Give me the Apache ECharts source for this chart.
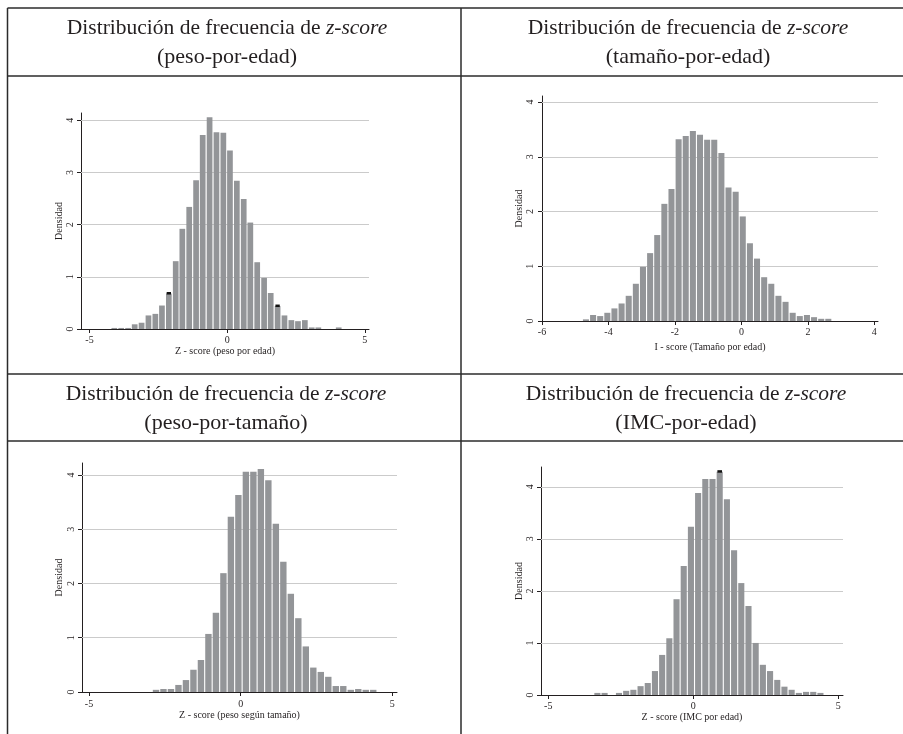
<!DOCTYPE html>
<html><head><meta charset="utf-8">
<script src="https://cdn.jsdelivr.net/npm/echarts@6/dist/echarts.min.js"></script>
<style>html,body{margin:0;padding:0;background:#fff}#c{width:903px;height:734px}</style>
</head><body><div id="c"></div><script>
// ---- data ----
const titleMain = 'Distribución de frecuencia de ';
const titleItalic = 'z-score';
const subTitles = ['(peso-por-edad)', '(tamaño-por-edad)', '(peso-por-tamaño)', '(IMC-por-edad)'];
const xNames = ['Z - score (peso por edad)', 'I - score (Tamaño por edad)', 'Z - score (peso según tamaño)', 'Z - score (IMC por edad)'];
const yName = 'Densidad';
const yTicks = [0, 1, 2, 3, 4];
const yGridVals = [1, 2, 3, 4];
const xTicks1 = [-5, 0, 5];
const xTicks2 = [-6, -4, -2, 0, 2, 4];
const xTicks3 = [-5, 0, 5];
const xTicks4 = [-5, 0, 5];

const centers1 = [-4.10,-3.85,-3.60,-3.36,-3.11,-2.86,-2.61,-2.37,-2.12,-1.87,-1.63,-1.38,-1.13,-0.89,-0.64,-0.39,-0.14,0.10,0.35,0.60,0.84,1.09,1.34,1.58,1.83,2.08,2.33,2.57,2.82,3.07,3.31,3.56,3.81,4.05];
const values1 = [0.02,0.02,0.02,0.09,0.12,0.26,0.29,0.45,0.68,1.30,1.92,2.34,2.85,3.72,4.06,3.77,3.76,3.42,2.84,2.49,2.04,1.28,0.98,0.69,0.44,0.26,0.17,0.15,0.17,0.03,0.03,0,0,0.03];
const marks1 = [[-2.12, 0.68], [1.83, 0.44]];

const centers2 = [-4.678,-4.463,-4.249,-4.034,-3.820,-3.605,-3.391,-3.176,-2.962,-2.747,-2.533,-2.318,-2.104,-1.889,-1.675,-1.460,-1.246,-1.031,-0.817,-0.602,-0.388,-0.173,0.041,0.256,0.470,0.685,0.899,1.114,1.328,1.543,1.757,1.972,2.186,2.401,2.615];
const values2 = [0.03,0.11,0.09,0.15,0.23,0.32,0.46,0.68,0.99,1.24,1.57,2.14,2.41,3.32,3.38,3.47,3.40,3.31,3.31,3.07,2.44,2.36,1.91,1.42,1.14,0.80,0.68,0.46,0.35,0.15,0.09,0.11,0.07,0.04,0.04];
const marks2 = [];

const centers3 = [-2.790,-2.544,-2.297,-2.050,-1.803,-1.556,-1.309,-1.062,-0.815,-0.568,-0.321,-0.074,0.173,0.420,0.667,0.914,1.161,1.408,1.655,1.902,2.149,2.396,2.643,2.890,3.137,3.384,3.631,3.878,4.125,4.372];
const values3 = [0.04,0.055,0.055,0.13,0.22,0.41,0.59,1.07,1.46,2.19,3.23,3.63,4.06,4.06,4.11,3.90,3.10,2.40,1.81,1.36,0.84,0.45,0.37,0.28,0.11,0.11,0.04,0.055,0.04,0.04];
const marks3 = [];

const centers4 = [-3.306,-3.058,-2.810,-2.562,-2.314,-2.066,-1.818,-1.570,-1.322,-1.074,-0.826,-0.578,-0.330,-0.082,0.166,0.414,0.662,0.910,1.158,1.406,1.654,1.902,2.150,2.398,2.646,2.894,3.142,3.390,3.638,3.886,4.134,4.382];
const values4 = [0.04,0.04,0,0.04,0.08,0.10,0.17,0.23,0.46,0.77,1.09,1.84,2.48,3.23,3.88,4.15,4.15,4.29,3.76,2.78,2.15,1.71,1.00,0.58,0.46,0.29,0.16,0.10,0.04,0.06,0.06,0.04];
const marks4 = [[0.910, 4.29]];

// ---- layout / style ----
const SERIF = '"Liberation Serif", "DejaVu Serif", serif';
const INK = '#231f20';
const BAR = '#939598';
const panels = [
  {centers: centers1, values: values1, marks: marks1, xTicks: xTicks1, bw: 0.247,
   grid: {left: 81, top: 113, width: 288, height: 216}, xMin: -5.31, xMax: 5.15, yMax: 4.14,
   xLabelGap: 6, xNameGap: 15, yLabelGap: 6, yNameGap: 17},
  {centers: centers2, values: values2, marks: marks2, xTicks: xTicks2, bw: 0.2145,
   grid: {left: 542, top: 96, width: 336, height: 225}, xMin: -6, xMax: 4.11, yMax: 4.11,
   xLabelGap: 6, xNameGap: 21, yLabelGap: 7, yNameGap: 18},
  {centers: centers3, values: values3, marks: marks3, xTicks: xTicks3, bw: 0.247,
   grid: {left: 82, top: 463, width: 315, height: 229}, xMin: -5.23, xMax: 5.155, yMax: 4.22,
   xLabelGap: 7, xNameGap: 18, yLabelGap: 6, yNameGap: 18},
  {centers: centers4, values: values4, marks: marks4, xTicks: xTicks4, bw: 0.248,
   grid: {left: 541, top: 467, width: 302, height: 228}, xMin: -5.25, xMax: 5.16, yMax: 4.38,
   xLabelGap: 6, xNameGap: 17, yLabelGap: 6, yNameGap: 16}
];

const grids = [], xAxes = [], yAxes = [], series = [];
panels.forEach((p, i) => {
  grids.push(Object.assign({containLabel: false}, p.grid));
  xAxes.push({
    type: 'value', gridIndex: i, min: p.xMin, max: p.xMax,
    axisLine: {show: true, onZero: false, lineStyle: {color: INK, width: 1}},
    axisTick: {show: true, length: 4, customValues: p.xTicks, lineStyle: {color: INK, width: 1}},
    axisLabel: {customValues: p.xTicks, margin: p.xLabelGap, fontFamily: SERIF, fontSize: 10, color: INK,
      formatter: v => String(v)},
    splitLine: {show: false},
    name: xNames[i], nameLocation: 'middle', nameGap: p.xNameGap,
    nameTextStyle: {fontFamily: SERIF, fontSize: 10, color: INK}
  });
  yAxes.push({
    type: 'value', gridIndex: i, min: 0, max: p.yMax,
    axisLine: {show: true, onZero: false, lineStyle: {color: INK, width: 1}},
    axisTick: {show: true, length: 4, customValues: yTicks, lineStyle: {color: INK, width: 1}},
    axisLabel: {customValues: yTicks, rotate: 90, margin: p.yLabelGap, fontFamily: SERIF, fontSize: 10, color: INK,
      formatter: v => (Math.abs(v - Math.round(v)) < 1e-6 ? String(Math.round(v)) : '')},
    splitLine: {show: false},
    name: yName, nameLocation: 'middle', nameGap: p.yNameGap, nameRotate: 90,
    nameTextStyle: {fontFamily: SERIF, fontSize: 10, color: INK}
  });
  // gridlines
  series.push({
    type: 'line', xAxisIndex: i, yAxisIndex: i, data: [], silent: true, z: 1,
    markLine: {silent: true, z: 1, symbol: ['none', 'none'], label: {show: false},
      lineStyle: {color: '#cbcbcb', width: 1.2, type: 'solid'},
      emphasis: {disabled: true},
      data: yGridVals.map(v => ({yAxis: v}))}
  });
  const bw = p.bw;
  series.push({
    type: 'custom', xAxisIndex: i, yAxisIndex: i, z: 10, silent: true, clip: true,
    encode: {x: 0, y: 1},
    data: p.centers.map((c, k) => [c, p.values[k]]),
    renderItem: (params, api) => {
      const xc = api.value(0), y = api.value(1);
      if (!(y > 0)) return null;
      const a = api.coord([xc - bw / 2, y]);
      const b = api.coord([xc + bw / 2, 0]);
      const gap = 1.1;
      return {type: 'rect', shape: {x: a[0] + gap / 2, y: a[1], width: b[0] - a[0] - gap, height: b[1] - a[1]},
        style: {fill: BAR}};
    }
  });
  if (p.marks.length) {
    series.push({
      type: 'custom', xAxisIndex: i, yAxisIndex: i, z: 11, silent: true,
      encode: {x: 0, y: 1},
      data: p.marks,
      renderItem: (params, api) => {
        const xc = api.value(0), y = api.value(1);
        const a = api.coord([xc - bw * 0.32, y]);
        const b = api.coord([xc + bw * 0.32, y]);
        return {type: 'rect', shape: {x: a[0], y: a[1] - 1.5, width: b[0] - a[0], height: 2.5},
          style: {fill: '#111'}};
      }
    });
  }
});

// ---- table frame & titles ----
const LINE = {stroke: '#2b2b2b', lineWidth: 1.5};
const W = 903, H = 734;
const xL = 7.5, xM = 461, yT = 8, yR1 = 76, yDiv = 374, yR2 = 441;
const graphic = [
  {type: 'line', shape: {x1: xL, y1: yT, x2: W, y2: yT}, style: LINE, silent: true},
  {type: 'line', shape: {x1: xL, y1: yR1, x2: W, y2: yR1}, style: LINE, silent: true},
  {type: 'line', shape: {x1: xL, y1: yDiv, x2: W, y2: yDiv}, style: LINE, silent: true},
  {type: 'line', shape: {x1: xL, y1: yR2, x2: W, y2: yR2}, style: LINE, silent: true},
  {type: 'line', shape: {x1: xL, y1: yT, x2: xL, y2: H}, style: LINE, silent: true},
  {type: 'line', shape: {x1: xM, y1: yT, x2: xM, y2: H}, style: LINE, silent: true}
];
const titleCenters = [[227, yT], [688, yT], [226, yDiv], [686, yDiv]];
titleCenters.forEach((tc, i) => {
  graphic.push({
    type: 'text', x: tc[0], y: tc[1] + 20, silent: true,
    style: {text: '{n|' + titleMain + '}{i|' + titleItalic + '}', align: 'center', verticalAlign: 'middle',
      rich: {n: {fontFamily: SERIF, fontSize: 21.5, fill: INK, color: INK},
             i: {fontFamily: SERIF, fontSize: 21.5, fontStyle: 'italic', fill: INK, color: INK}}}
  });
  graphic.push({
    type: 'text', x: tc[0], y: tc[1] + 49, silent: true,
    style: {text: subTitles[i], align: 'center', verticalAlign: 'middle',
      fontFamily: SERIF, fontSize: 22, fill: INK}
  });
});

const chart = echarts.init(document.getElementById('c'), null, {renderer: 'canvas'});
chart.setOption({
  animation: false,
  backgroundColor: '#ffffff',
  grid: grids, xAxis: xAxes, yAxis: yAxes, series: series, graphic: graphic
});
</script></body></html>
